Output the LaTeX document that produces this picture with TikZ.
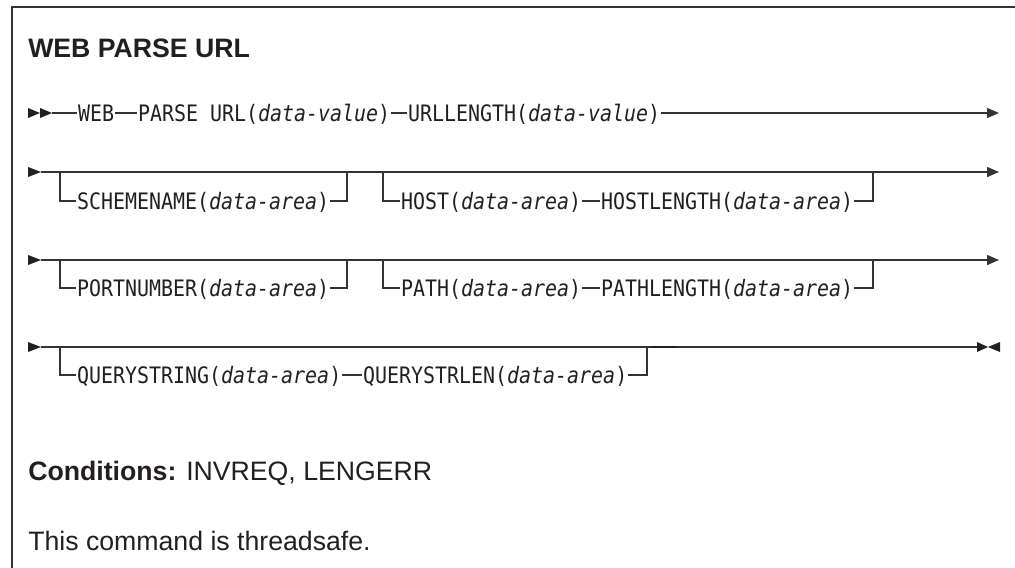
\documentclass[tikz,border=0pt]{standalone}
\usepackage{fontspec}
\setmainfont{Liberation Sans}
\setmonofont[FakeStretch=0.88]{DejaVu Sans Mono}
\usetikzlibrary{arrows.meta}
\definecolor{ink}{HTML}{231F20}
\definecolor{rule}{HTML}{333333}
\tikzset{
  syn/.style={font=\ttfamily\fontsize{17}{20}\selectfont, text=ink, inner xsep=0.6pt, inner ysep=0pt,
              text height=12.4pt, text depth=0pt, anchor=west},
  rr/.style={draw=rule, line width=1pt},
  tri/.style={fill=ink},
  endarr/.style={-{Triangle[length=9pt,width=7.5pt]}},
  prose/.style={font=\fontsize{20}{24}\selectfont, text=ink, inner sep=0pt, anchor=base west},
}
\begin{document}
\begin{tikzpicture}[x=0.75pt,y=-0.75pt]
\useasboundingbox (0,0) rectangle (1015,568);
% frame
\draw[draw=rule, line width=1.1pt] (12,568) -- (12,7) -- (1015,7);
% title
\node[prose, font=\bfseries\fontsize{20}{24}\selectfont] (title) at (28,57) {WEB PARSE URL};

% ---- row 1
\fill[tri] (28,108) -- (40,113) -- (28,118) -- cycle;
\fill[tri] (40,108) -- (52,113) -- (40,118) -- cycle;
\coordinate (s1) at (52,113);
\node[syn] (web) at (77,113) {WEB};
\node[syn] (parse) at (137,113) {PARSE URL(\textit{data-value})};
\node[syn] (urllen) at (407,113) {URLLENGTH(\textit{data-value})};
\coordinate (e1) at (999,113);
\draw[rr] (s1) -- (web.west);
\draw[rr] (web.east) -- (parse.west);
\draw[rr] (parse.east) -- (urllen.west);
\draw[rr, endarr] (urllen.east) -- (e1);

% ---- row 2
\fill[tri] (28,167) -- (41,172) -- (28,177) -- cycle;
\coordinate (s2) at (41,172);
\coordinate (e2) at (999,172);
\draw[rr, endarr] (s2) -- (e2);
\node[syn] (scheme) at (76,201) {SCHEMENAME(\textit{data-area})};
\node[syn] (host) at (400,201) {HOST(\textit{data-area})};
\node[syn] (hostlen) at (600,201) {HOSTLENGTH(\textit{data-area})};
\draw[rr] (60,172) |- (scheme.west);
\draw[rr] (scheme.east) -| (347,172);
\draw[rr] (383,172) |- (host.west);
\draw[rr] (host.east) -- (hostlen.west);
\draw[rr] (hostlen.east) -| (873,172);

% ---- row 3
\fill[tri] (28,255) -- (41,260) -- (28,265) -- cycle;
\coordinate (s3) at (41,260);
\coordinate (e3) at (999,260);
\draw[rr, endarr] (s3) -- (e3);
\node[syn] (port) at (76,288) {PORTNUMBER(\textit{data-area})};
\node[syn] (path) at (400,288) {PATH(\textit{data-area})};
\node[syn] (pathlen) at (600,288) {PATHLENGTH(\textit{data-area})};
\draw[rr] (60,260) |- (port.west);
\draw[rr] (port.east) -| (347,260);
\draw[rr] (383,260) |- (path.west);
\draw[rr] (path.east) -- (pathlen.west);
\draw[rr] (pathlen.east) -| (873,260);

% ---- row 4
\fill[tri] (28,342) -- (41,347) -- (28,352) -- cycle;
\coordinate (s4) at (41,347);
\coordinate (e4) at (977,347);
\draw[rr] (s4) -- (e4);
\draw[draw=ink, line width=1.6pt] (652,347) -- (676,347);
\fill[tri] (977,342) -- (988,347) -- (977,352) -- cycle;
\fill[tri] (1000,342) -- (988,347) -- (1000,352) -- cycle;
\node[syn] (query) at (76,375) {QUERYSTRING(\textit{data-area})};
\node[syn] (querylen) at (362,375) {QUERYSTRLEN(\textit{data-area})};
\draw[rr] (60,347) |- (query.west);
\draw[rr] (query.east) -- (querylen.west);
\draw[rr] (querylen.east) -| (647,347);

% ---- prose
\node[prose] (cond) at (28,480) {\textbf{Conditions:} INVREQ, LENGERR};
\node[prose] (thread) at (28,550) {This command is threadsafe.};
\end{tikzpicture}
\end{document}
